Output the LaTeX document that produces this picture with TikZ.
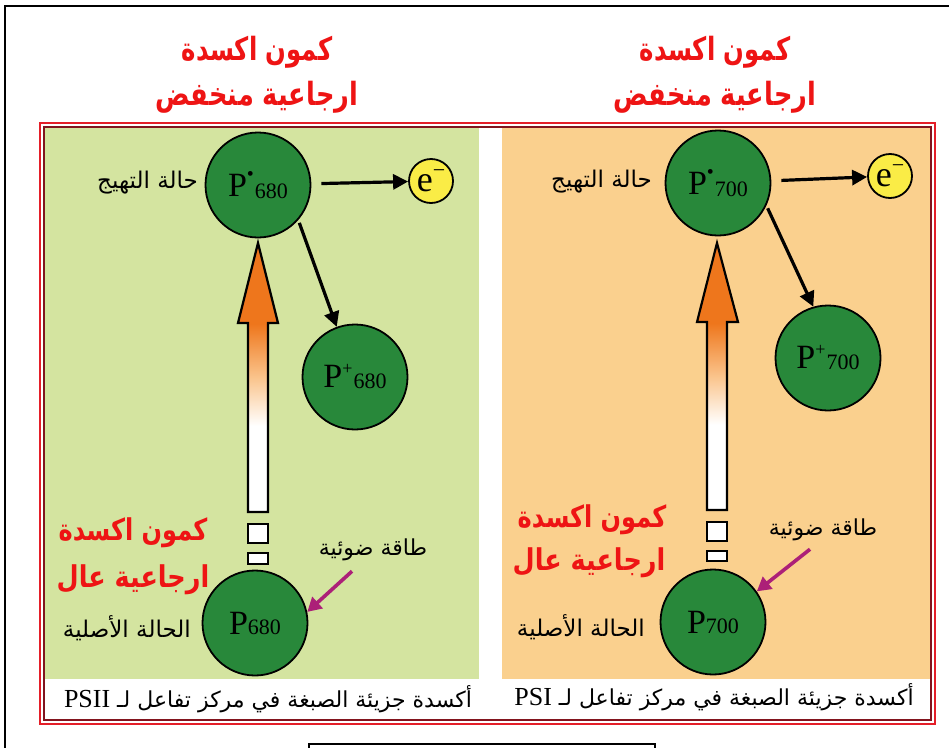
\documentclass[tikz,border=0pt]{standalone}
\usepackage{fontspec}
\setmainfont{Liberation Serif}
\newfontfamily\arabicfont[Script=Arabic]{DejaVu Sans}
\TeXXeTstate=1
\usetikzlibrary{arrows.meta}
\definecolor{bgG}{RGB}{212,228,160}
\definecolor{bgO}{RGB}{250,208,142}
\definecolor{cG}{RGB}{40,136,58}
\definecolor{eY}{RGB}{250,236,70}
\definecolor{tRed}{RGB}{238,20,20}
\definecolor{fRed}{RGB}{228,30,40}
\definecolor{fDark}{RGB}{130,20,30}
\definecolor{magc}{RGB}{172,32,120}
\definecolor{orD}{RGB}{238,118,28}
\definecolor{orL}{RGB}{250,196,140}
\pgfdeclareverticalshading{arrsh}{100bp}{color(0bp)=(white); color(41bp)=(white); color(50bp)=(orL); color(60bp)=(orD); color(100bp)=(orD)}
\newcommand{\PExc}[1]{P\raisebox{16pt}{\fontsize{20}{20}\selectfont •}\kern1pt\raisebox{-2pt}{\fontsize{22}{22}\selectfont #1}}
\newcommand{\PPls}[1]{P\raisebox{13pt}{\fontsize{18}{18}\selectfont +}\kern1pt\raisebox{-1pt}{\fontsize{22}{22}\selectfont #1}}
\newcommand{\PGrd}[1]{P{\fontsize{22}{22}\selectfont #1}}
\newcommand{\Elec}{e\raisebox{14pt}{\fontsize{22}{22}\selectfont −}}
\begin{document}
\begin{tikzpicture}[x=1pt,y=-1pt,
 pcirc/.style={circle,draw=black,line width=1.8pt,fill=cG,minimum size=105pt,inner sep=0pt,font=\fontsize{34}{34}\selectfont},
 ecirc/.style={circle,draw=black,line width=1.8pt,fill=eY,minimum size=44pt,inner sep=0pt,font=\fontsize{36}{36}\selectfont},
 blkarr/.style={line width=3.2pt,-{Triangle[length=15pt,width=15pt]}},
 magarr/.style={draw=magc,line width=3.6pt,-{Triangle[length=14pt,width=15pt]}},
 titletxt/.style={text=tRed,font=\arabicfont\bfseries\fontsize{32}{36}\selectfont,inner sep=0pt},
 redlab/.style={text=tRed,font=\arabicfont\bfseries\fontsize{30}{34}\selectfont,inner sep=0pt},
 arlab/.style={font=\arabicfont\fontsize{23}{26}\selectfont,anchor=east,inner sep=0pt},
 lighttxt/.style={font=\arabicfont\fontsize{22}{24}\selectfont,inner sep=0pt},
 captxt/.style={font=\arabicfont\fontsize{22}{24}\selectfont,inner sep=0pt},
]
\useasboundingbox (0,0) rectangle (949,747);
\clip (0,0) rectangle (949,747);
\fill[white] (0,0) rectangle (949,747);
% outer frame
\draw[line width=1.6pt] (960,6) -- (5,6) -- (5,760);
% panels
\fill[bgG] (44,127) rectangle (479,679);
\fill[bgO] (502,127) rectangle (931,679);
\fill[white] (44,679) rectangle (931,720);
\draw[fDark,line width=1.2pt] (44,127) rectangle (931,720);
\draw[fRed,line width=1.6pt] (40,123) rectangle (935,724);
% bottom box
\draw[line width=1.2pt] (309,744) rectangle (655,770);

% titles
\node[titletxt] (titleL1) at (257,52) {\scalebox{0.76}[1]{\beginR كمون اكسدة\endR}};
\node[titletxt] (titleL2) at (257,97) {\scalebox{0.8}[1]{\beginR ارجاعية منخفض\endR}};
\node[titletxt] (titleR1) at (715,52) {\scalebox{0.76}[1]{\beginR كمون اكسدة\endR}};
\node[titletxt] (titleR2) at (715,97) {\scalebox{0.8}[1]{\beginR ارجاعية منخفض\endR}};

% ---------- left panel (PSII) ----------
\path[shading=arrsh,draw=black,line width=2.2pt,line join=miter]
  (258,243) -- (278,323) -- (268,323) -- (268,512) -- (248,512) -- (248,323) -- (238,323) -- cycle;
\draw[fill=white,line width=2.2pt] (248,524) rectangle (268,543);
\draw[fill=white,line width=2.2pt] (248,553) rectangle (268,564);

\node[pcirc] (pexL) at (258,185) {\PExc{680}};
\node[ecirc] (eL) at (431,181) {\Elec};
\node[pcirc] (pplL) at (355,377) {\PPls{680}};
\node[pcirc] (pgL) at (255,623) {\PGrd{680}};
\node[arlab] (lblExL) at (198,183) {\beginR حالة التهيج\endR};
\node[arlab] (lblGrL) at (191,628) {\beginR الحالة الأصلية\endR};
\node[lighttxt] (lightL) at (373,550) {\beginR طاقة ضوئية\endR};
\node[redlab] (redL1) at (133,533) {\scalebox{0.8}[1]{\beginR كمون اكسدة\endR}};
\node[redlab] (redL2) at (133,580) {\scalebox{0.85}[1]{\beginR ارجاعية عال\endR}};
\node[captxt] (capL) at (268,699) {\beginR أكسدة جزيئة الصبغة في مركز تفاعل لـ \beginL{\rmfamily\fontsize{26}{26}\selectfont PSII}\endL\endR};

\draw[blkarr,shorten <=10pt] (pexL) -- (eL);
\draw[blkarr,shorten <=3pt] (pexL.-41) -- (pplL.110);
\draw[magarr] ([xshift=-21pt,yshift=-10pt]lightL.south) -- (pgL.12);

% ---------- right panel (PSI) ----------
\path[shading=arrsh,draw=black,line width=2.2pt,line join=miter]
  (717,243) -- (738,322) -- (727,322) -- (727,510) -- (707,510) -- (707,322) -- (697,322) -- cycle;
\draw[fill=white,line width=2.2pt] (707,522) rectangle (727,541);
\draw[fill=white,line width=2.2pt] (707,551) rectangle (727,561);

\node[pcirc] (pexR) at (718,183) {\PExc{700}};
\node[ecirc] (eR) at (890,176) {\Elec};
\node[pcirc] (pplR) at (828,358) {\PPls{700}};
\node[pcirc] (pgR) at (713,622) {\PGrd{700}};
\node[arlab] (lblExR) at (652,182) {\beginR حالة التهيج\endR};
\node[arlab] (lblGrR) at (645,627) {\beginR الحالة الأصلية\endR};
\node[lighttxt] (lightR) at (823,530) {\beginR طاقة ضوئية\endR};
\node[redlab] (redR1) at (592,520) {\scalebox{0.8}[1]{\beginR كمون اكسدة\endR}};
\node[redlab] (redR2) at (589,563) {\scalebox{0.85}[1]{\beginR ارجاعية عال\endR}};
\node[captxt] (capR) at (714,697) {\beginR أكسدة جزيئة الصبغة في مركز تفاعل لـ \beginL{\rmfamily\fontsize{26}{26}\selectfont PSI}\endL\endR};

\draw[blkarr,shorten <=10pt] (pexR) -- (eR);
\draw[blkarr,shorten <=3pt] (pexR.-25) -- (pplR.106);
\draw[magarr] ([xshift=-13pt,yshift=-8pt]lightR.south) -- (pgR.35);
\end{tikzpicture}
\end{document}
